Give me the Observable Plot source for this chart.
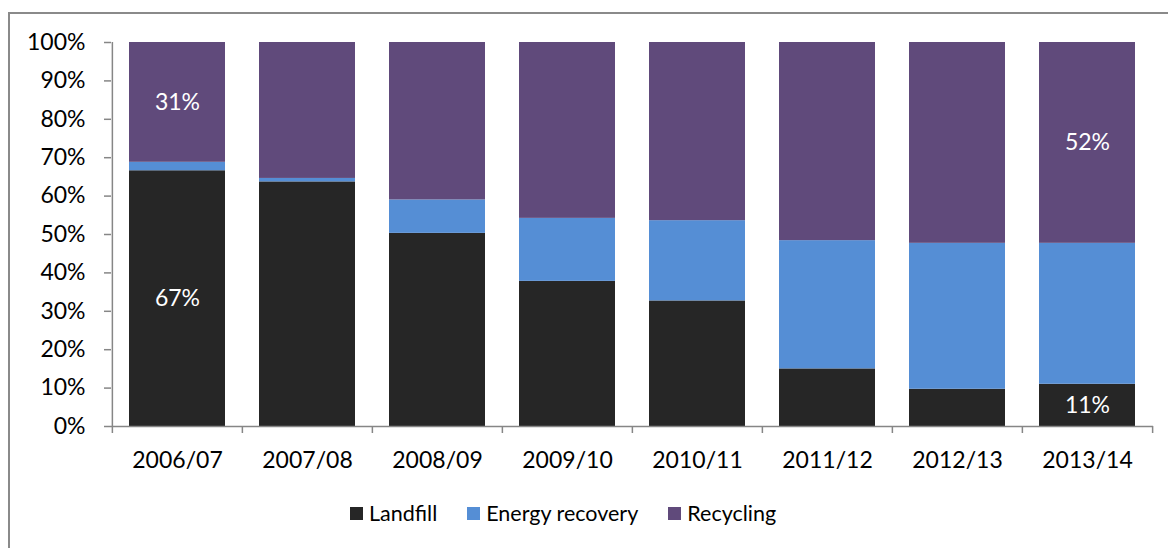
<!DOCTYPE html>
<html>
<head>
<meta charset="utf-8">
<script src="https://cdn.jsdelivr.net/npm/d3@7"></script>
<script src="https://cdn.jsdelivr.net/npm/@observablehq/plot@0.6"></script>
<style>
  html, body { margin: 0; padding: 0; background: #fff; width: 1168px; height: 548px; overflow: hidden; }
  #frame { position: absolute; left: 8px; top: 12px; width: 1200px; height: 600px;
           border-left: 2px solid #8a8a8a; border-top: 2px solid #8a8a8a; }
  #chart { position: absolute; left: 0; top: 0; }
  #legend { position: absolute; left: 350px; top: 500px; display: flex; align-items: center;
            font-family: Lato, sans-serif; font-size: 21.5px; color: #000; }
  .item { display: flex; align-items: center; margin-right: 30px; }
  .sw { width: 13px; height: 13px; margin-right: 6px; }
</style>
</head>
<body>
<div id="frame"></div>
<div id="chart"></div>
<div id="legend"></div>
<script>
const years = ["2006/07","2007/08","2008/09","2009/10","2010/11","2011/12","2012/13","2013/14"];
const types = ["Landfill","Energy recovery","Recycling"];
const colors = ["#262626","#558ed5","#604a7b"];
const landfill = [66.6, 63.7, 50.3, 37.8, 32.7, 15.0, 9.7, 11.0];
const energy   = [2.2, 0.9, 8.7, 16.4, 20.9, 33.4, 38.0, 36.7];
const recycling= [31.2, 35.4, 41.0, 45.8, 46.4, 51.6, 52.3, 52.3];
const yTicks = [0,10,20,30,40,50,60,70,80,90,100];
const labelled = [["2006/07","Landfill"],["2006/07","Recycling"],["2013/14","Landfill"],["2013/14","Recycling"]];

const series = {"Landfill": landfill, "Energy recovery": energy, "Recycling": recycling};
const data = [];
years.forEach((yr, i) => types.forEach(t => {
  const show = labelled.some(([a,b]) => a === yr && b === t);
  data.push({year: yr, type: t, value: series[t][i], show});
}));

const W = 1168, H = 490, ml = 111, mr = 15, mt = 42, mb = 64;
const step = (W - ml - mr) / years.length;
const axisColor = "#868686";
const fs = 23;

const chart = Plot.plot({
  width: W, height: H,
  marginLeft: ml, marginRight: mr, marginTop: mt, marginBottom: mb,
  style: {fontFamily: "Lato, sans-serif", fontSize: fs + "px", color: "#000", background: "transparent"},
  x: {domain: years, paddingInner: 0.263, paddingOuter: 0.1315, label: null},
  y: {domain: [0, 100], label: null},
  color: {domain: types, range: colors},
  marks: [
    Plot.barY(data, {x: "year", y: "value", fill: "type", order: types}),
    Plot.text(data, Plot.stackY({x: "year", y: "value", z: "type", order: types,
      text: d => d.show ? Math.round(d.value) + "%" : null, fill: "white", fontSize: fs})),
    Plot.ruleY([0], {stroke: axisColor, strokeWidth: 1.5}),
    Plot.ruleX([years[0]], {y1: 0, y2: 100, dx: -step / 2, stroke: axisColor, strokeWidth: 1.5}),
    Plot.axisY({ticks: yTicks, tickSize: 7, tickPadding: 19, tickFormat: d => d + "%",
      stroke: axisColor, strokeWidth: 1.5, fill: "#000", fontSize: fs, label: null}),
    Plot.axisX({tickSize: 7, text: null, dx: -step / 2, stroke: axisColor, strokeWidth: 1.5, label: null}),
    Plot.axisX({ticks: [years[years.length - 1]], tickSize: 7, text: null, dx: step / 2,
      stroke: axisColor, strokeWidth: 1.5, label: null}),
    Plot.axisX({tickSize: 0, tickPadding: 25, fill: "#000", fontSize: fs, label: null})
  ]
});
document.getElementById("chart").append(chart);

const legend = document.getElementById("legend");
types.forEach((t, i) => {
  const it = document.createElement("div");
  it.className = "item";
  const sw = document.createElement("div");
  sw.className = "sw";
  sw.style.background = colors[i];
  const lb = document.createElement("span");
  lb.textContent = t;
  it.append(sw, lb);
  legend.append(it);
});
</script>
</body>
</html>
